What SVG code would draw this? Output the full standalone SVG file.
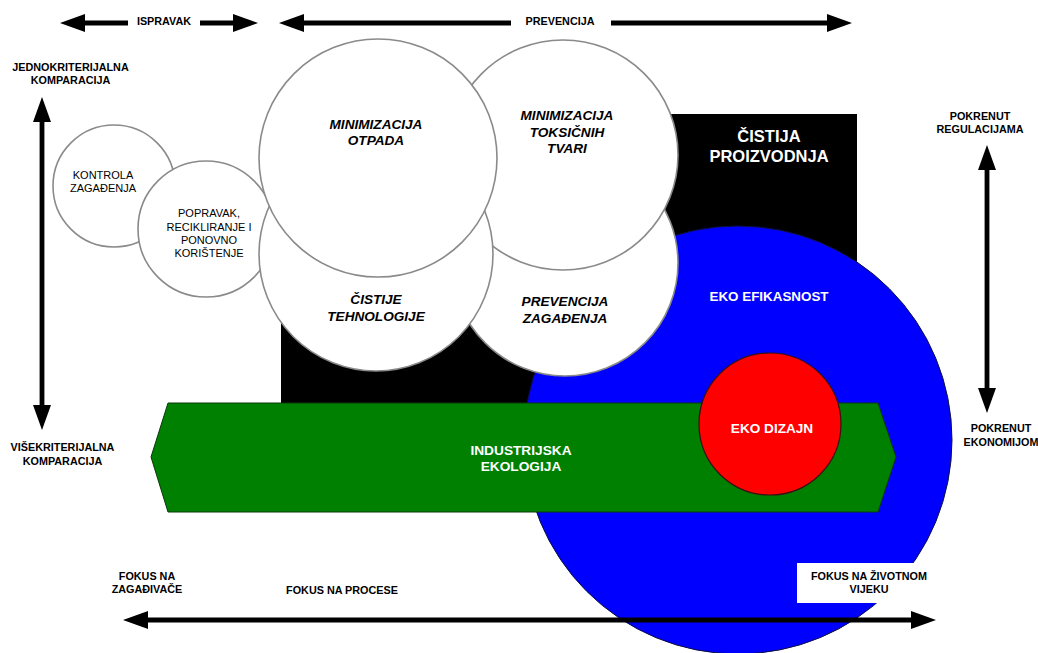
<svg xmlns="http://www.w3.org/2000/svg" width="1038" height="653" viewBox="0 0 1038 653">
<style>
text{font-family:"Liberation Sans",Arial,sans-serif;text-anchor:middle}
.lbl{font-size:10.8px;font-weight:bold;fill:#000}
.sm{font-size:11px;fill:#000}
.bi{font-size:13.6px;font-weight:bold;font-style:italic;fill:#000}
.wt{font-weight:bold;fill:#fff}
.wc{fill:#fff;stroke:#8a8a8a;stroke-width:1.6}
.ar{stroke:#000;stroke-width:4.8;fill:none}
</style>
<defs>
<marker id="ah" markerUnits="userSpaceOnUse" markerWidth="26" markerHeight="18" viewBox="0 0 26 18" refX="3" refY="9" orient="auto-start-reverse">
<path d="M0,0 L25,9 L0,18 Z" fill="#000"/>
</marker>
</defs>
<rect width="1038" height="653" fill="#fff"/>

<g id="cistija-proizvodnja">
<rect x="281" y="114" width="576" height="290" fill="#000"/>
<text class="wt" x="769" y="142" font-size="16.5">ČISTIJA</text>
<text class="wt" x="769" y="162" font-size="16.5">PROIZVODNJA</text>
</g>

<g id="eko-efikasnost">
<circle cx="738" cy="440" r="214" fill="#0000ff" stroke="#101040" stroke-width="1"/>
<text class="wt" x="769" y="301" font-size="13.4">EKO EFIKASNOST</text>
</g>

<g id="fokus-zivotni-vijek">
<rect x="797" y="563" width="144" height="40" fill="#fff"/>
<text class="lbl" x="869" y="580">FOKUS NA ŽIVOTNOM</text>
<text class="lbl" x="869" y="593">VIJEKU</text>
</g>

<g id="industrijska-ekologija">
<polygon points="168,403 878,403 896,457 878,512 168,512 151,457" fill="#008000" stroke="#0a3a0a" stroke-width="1"/>
<text class="wt" x="521" y="454.5" font-size="13.7">INDUSTRIJSKA</text>
<text class="wt" x="521" y="471" font-size="13.7">EKOLOGIJA</text>
</g>

<g id="eko-dizajn">
<circle cx="770" cy="424" r="71" fill="#ff0000" stroke="#3a1010" stroke-width="1.2"/>
<text class="wt" x="772" y="433" font-size="13.6">EKO DIZAJN</text>
</g>

<g id="kontrola-zagadjenja">
<circle class="wc" cx="114" cy="186" r="61"/>
<text class="sm" x="103" y="179">KONTROLA</text>
<text class="sm" x="103" y="192">ZAGAĐENJA</text>
</g>

<g id="popravak">
<circle class="wc" cx="206" cy="229" r="68"/>
<text class="sm" x="209" y="217">POPRAVAK,</text>
<text class="sm" x="209" y="231">RECIKLIRANJE I</text>
<text class="sm" x="209" y="244">PONOVNO</text>
<text class="sm" x="209" y="257">KORIŠTENJE</text>
</g>

<g id="prevencija-zagadjenja">
<circle class="wc" cx="565" cy="263" r="113"/>
<text class="bi" x="565" y="306">PREVENCIJA</text>
<text class="bi" x="565" y="323">ZAGAĐENJA</text>
</g>

<g id="minimizacija-toksicnih">
<circle class="wc" cx="563" cy="155" r="115"/>
<text class="bi" x="567" y="120">MINIMIZACIJA</text>
<text class="bi" x="567" y="137">TOKSIČNIH</text>
<text class="bi" x="567" y="153">TVARI</text>
</g>

<g id="cistije-tehnologije">
<circle class="wc" cx="376" cy="254" r="117"/>
<text class="bi" x="376" y="304">ČISTIJE</text>
<text class="bi" x="376" y="321">TEHNOLOGIJE</text>
</g>

<g id="minimizacija-otpada">
<circle class="wc" cx="378" cy="158" r="119"/>
<text class="bi" x="376" y="129">MINIMIZACIJA</text>
<text class="bi" x="376" y="145">OTPADA</text>
</g>

<g id="connectors">
<line class="ar" x1="82" y1="23" x2="128" y2="23" marker-start="url(#ah)"/>
<line class="ar" x1="200" y1="23" x2="236" y2="23" marker-end="url(#ah)"/>
<line class="ar" x1="301" y1="23" x2="511" y2="23" marker-start="url(#ah)"/>
<line class="ar" x1="611" y1="23" x2="830" y2="23" marker-end="url(#ah)"/>
<line class="ar" x1="42" y1="119" x2="42" y2="408" marker-start="url(#ah)" marker-end="url(#ah)"/>
<line class="ar" x1="987" y1="167" x2="987" y2="391" marker-start="url(#ah)" marker-end="url(#ah)"/>
<line class="ar" x1="145" y1="620" x2="914" y2="620" marker-start="url(#ah)" marker-end="url(#ah)"/>
</g>

<g id="labels">
<text class="lbl" x="164" y="24.5">ISPRAVAK</text>
<text class="lbl" x="560" y="25">PREVENCIJA</text>
<text class="lbl" x="70.5" y="71">JEDNOKRITERIJALNA</text>
<text class="lbl" x="70.5" y="84">KOMPARACIJA</text>
<text class="lbl" x="62.5" y="451">VIŠEKRITERIJALNA</text>
<text class="lbl" x="62.5" y="465">KOMPARACIJA</text>
<text class="lbl" x="980" y="120">POKRENUT</text>
<text class="lbl" x="980" y="133">REGULACIJAMA</text>
<text class="lbl" x="1001" y="432">POKRENUT</text>
<text class="lbl" x="1001" y="446">EKONOMIJOM</text>
<text class="lbl" x="147" y="580">FOKUS NA</text>
<text class="lbl" x="147" y="593">ZAGAĐIVAČE</text>
<text class="lbl" x="342" y="594">FOKUS NA PROCESE</text>
</g>
</svg>
